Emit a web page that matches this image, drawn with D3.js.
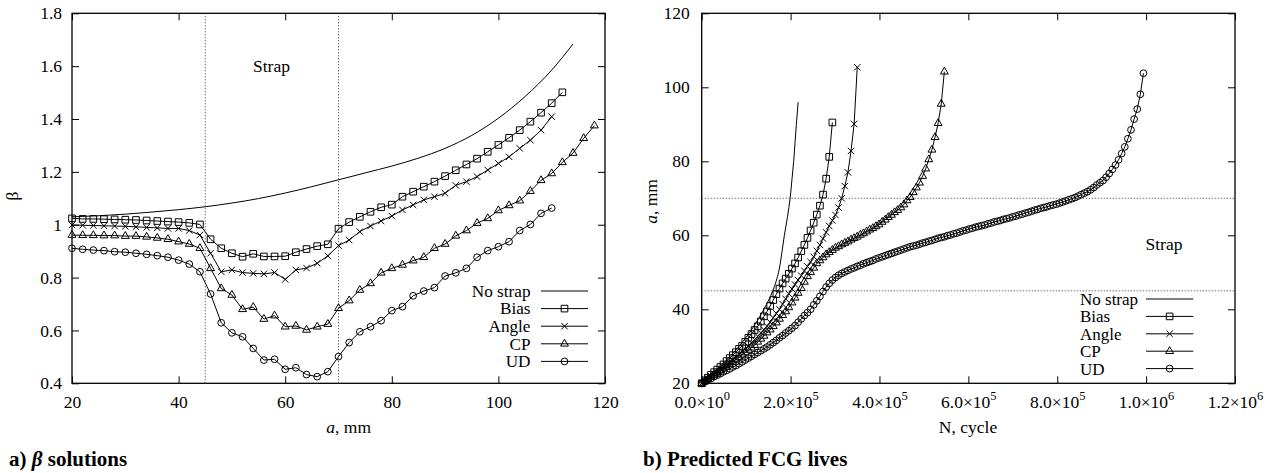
<!DOCTYPE html>
<html>
<head>
<meta charset="utf-8">
<script src="https://cdn.jsdelivr.net/npm/d3@7"></script>
<style>
  body { margin: 0; background: #fff; }
  svg { display: block; }
</style>
</head>
<body>
<script>
// ---- panel a) beta vs crack length a (mm), one value every 2 mm ----
const aGrid = [20,22,24,26,28,30,32,34,36,38,40,42,44,46,48,50,52,54,56,58,
  60,62,64,66,68,70,72,74,76,78,80,82,84,86,88,90,92,94,96,98,
  100,102,104,106,108,110,112,114,116,118];

const betaBias = [1.024,1.022,1.022,1.021,1.020,1.019,1.018,1.016,1.014,1.012,
  1.010,1.007,1.001,0.945,0.911,0.892,0.879,0.890,0.880,0.880,
  0.881,0.896,0.908,0.919,0.926,0.985,1.010,1.030,1.049,1.066,
  1.076,1.106,1.125,1.144,1.163,1.184,1.206,1.228,1.250,1.276,
  1.302,1.329,1.358,1.390,1.424,1.460,1.501];
const betaAngle = [0.999,0.998,0.997,0.996,0.995,0.994,0.992,0.990,0.988,0.986,
  0.986,0.978,0.961,0.892,0.822,0.829,0.819,0.816,0.814,0.819,
  0.793,0.829,0.836,0.854,0.882,0.921,0.942,0.974,0.995,1.014,
  1.033,1.056,1.075,1.094,1.106,1.119,1.149,1.163,1.182,1.207,
  1.232,1.257,1.289,1.320,1.358,1.409];
const betaCP = [0.961,0.960,0.960,0.959,0.959,0.957,0.957,0.954,0.950,0.945,
  0.936,0.927,0.911,0.835,0.759,0.734,0.680,0.688,0.643,0.656,
  0.614,0.617,0.602,0.614,0.624,0.684,0.713,0.753,0.778,0.818,
  0.835,0.848,0.864,0.877,0.911,0.927,0.958,0.978,1.006,1.024,
  1.054,1.073,1.091,1.127,1.168,1.194,1.236,1.271,1.327,1.375];
const betaUD = [0.911,0.907,0.904,0.902,0.898,0.896,0.892,0.888,0.883,0.877,
  0.866,0.851,0.822,0.738,0.629,0.591,0.576,0.532,0.488,0.491,
  0.453,0.459,0.433,0.425,0.444,0.501,0.554,0.595,0.614,0.637,
  0.675,0.690,0.731,0.749,0.762,0.806,0.818,0.835,0.877,0.902,
  0.917,0.936,0.978,1.001,1.043,1.063];

// no strap curve (line only)
const noStrapA = [20,25,30,35,40,45,50,55,60,65,70,75,80,85,90,95,100,105,110,114];
const noStrapBeta = [1.030,1.034,1.040,1.048,1.057,1.068,1.082,1.099,1.120,1.144,
  1.170,1.196,1.222,1.252,1.289,1.338,1.403,1.485,1.585,1.684];

const xTicksL = [20,40,60,80,100,120];
const yTicksL = [0.4,0.6,0.8,1,1.2,1.4,1.6,1.8];
const yTickLabelsL = ['0.4','0.6','0.8','1','1.2','1.4','1.6','1.8'];

// ---- panel b) crack length a (mm) vs cycles, output every 7000 cycles ----
const nGridK = [0,7,14,21,28,35,42,49,56,63,70,77,84,91,98,105,112,119,126,133,
  140,147,154,161,168,175,182,189,196,203,210,217,224,231,238,245,252,259,266,273,
  280,287,294,301,308,315,322,329,336,343,350,357,364,371,378,385,392,399,406,413,
  420,427,434,441,448,455,462,469,476,483,490,497,504,511,518,525,532,539,546,553,
  560,567,574,581,588,595,602,609,616,623,630,637,644,651,658,665,672,679,686,693,
  700,707,714,721,728,735,742,749,756,763,770,777,784,791,798,805,812,819,826,833,
  840,847,854,861,868,875,882,889,896,903,910,917,924,931,938,945,952,959,966,973,
  980,987,994];

const crackBias = [20.0,20.8,21.5,22.3,23.0,23.7,24.4,25.1,26.0,26.8,
  27.6,28.4,29.3,30.1,31.2,32.3,33.3,34.4,35.4,36.7,
  38.1,39.4,40.9,42.5,44.1,45.6,47.0,48.3,49.6,51.0,
  52.4,54.0,55.7,57.4,59.3,61.3,63.4,65.6,68.0,71.0,
  75.3,81.2,90.5];
const crackAngle = [20.0,20.6,21.3,21.9,22.5,23.1,23.8,24.4,25.0,25.7,
  26.4,27.1,27.8,28.6,29.3,30.0,30.9,31.8,32.7,33.6,
  34.5,35.4,36.5,37.7,38.9,40.0,41.4,42.8,44.2,45.5,
  46.7,47.9,49.1,50.4,51.6,52.8,54.2,55.8,57.4,59.1,
  60.8,62.5,64.0,65.5,67.5,70.0,73.3,77.0,82.8,90.1,
  105.4];
const crackCP = [20.0,20.6,21.1,21.7,22.3,22.8,23.4,24.0,24.5,25.1,
  25.7,26.4,27.0,27.7,28.3,29.0,29.6,30.3,31.2,32.0,
  32.8,33.7,34.5,35.4,36.4,37.4,38.4,39.4,40.5,41.8,
  43.1,44.4,45.7,47.4,48.9,50.0,51.2,52.4,53.2,54.0,
  54.8,55.4,56.0,56.6,57.0,57.5,57.9,58.3,58.8,59.2,
  59.6,60.1,60.5,61.0,61.5,61.9,62.4,62.9,63.6,64.2,
  64.9,65.5,66.2,66.8,67.5,68.3,69.4,70.3,71.6,72.9,
  74.2,76.0,78.0,80.5,83.1,86.5,90.3,95.5,104.2];
const crackUD = [20.0,20.4,20.9,21.3,21.8,22.2,22.6,23.1,23.5,23.9,
  24.4,24.8,25.3,25.8,26.3,26.8,27.3,27.8,28.3,28.8,
  29.3,29.8,30.4,31.0,31.6,32.3,32.9,33.6,34.2,34.9,
  35.6,36.5,37.4,38.3,39.1,40.0,41.2,42.3,43.5,44.8,
  46.0,47.0,47.9,48.6,49.2,49.7,50.1,50.5,50.9,51.2,
  51.6,51.9,52.3,52.6,52.9,53.2,53.6,53.9,54.2,54.5,
  54.8,55.1,55.4,55.7,56.0,56.3,56.6,56.9,57.1,57.3,
  57.6,57.9,58.1,58.4,58.6,58.9,59.2,59.4,59.6,59.9,
  60.1,60.4,60.6,60.9,61.2,61.4,61.7,61.9,62.2,62.4,
  62.6,62.8,63.1,63.3,63.6,63.8,64.0,64.3,64.5,64.7,
  65.0,65.2,65.5,65.7,66.0,66.2,66.5,66.8,67.0,67.3,
  67.5,67.7,68.0,68.2,68.4,68.7,69.0,69.3,69.6,69.9,
  70.2,70.6,71.0,71.4,71.8,72.3,72.9,73.6,74.2,74.8,
  75.7,76.7,77.8,79.0,80.4,82.1,83.9,86.1,88.5,91.4,
  94.1,98.1,103.8];

// no strap life curve (line only), cycles in thousands
const noStrapNK = [0,45,84,115,140,160,173,180,186,193,199,203,207,210,213,217];
const noStrapCrack = [20,25,30,35,40,45,50,55,60,65,70,75,80,85,90,96];

const xTicksR = [0,200000,400000,600000,800000,1000000,1200000];
const xTickMantR = ['0.0','2.0','4.0','6.0','8.0','1.0','1.2'];
const xTickExpR = ['0','5','5','5','5','6','6'];
const yTicksR = [20,40,60,80,100,120];

const strapBounds = [45, 70];
const legendNames = ['No strap','Bias','Angle','CP','UD'];
const legendMarks = [null,'square','cross','triangle','circle'];

// ---- drawing ----
const FONT = '"Liberation Serif","Times New Roman",Times,serif';
const FS = 17.5;
const width = 1275, height = 473;

const svg = d3.select('body').append('svg')
  .attr('width', width)
  .attr('height', height)
  .attr('font-family', FONT);

const markPath = {
  square: d3.symbol(d3.symbolSquare, 44)(),
  triangle: d3.symbol(d3.symbolTriangle, 27)(),
  circle: d3.symbol(d3.symbolCircle, 36)(),
  cross: 'M-3.2,-3.2L3.2,3.2M-3.2,3.2L3.2,-3.2'
};

function addMarks(g, pts, type) {
  g.append('g')
    .selectAll('path')
    .data(pts)
    .enter().append('path')
    .attr('d', markPath[type])
    .attr('transform', d => `translate(${d[0]},${d[1]})`)
    .attr('fill', 'none')
    .attr('stroke', '#000')
    .attr('stroke-width', 1);
}

function addLine(g, pts, curve) {
  g.append('path')
    .datum(pts)
    .attr('d', d3.line().curve(curve || d3.curveLinear))
    .attr('fill', 'none')
    .attr('stroke', '#000')
    .attr('stroke-width', 1);
}

function drawFrame(g, x, y, xTicks, yTicks, xPad, yPad) {
  const [x0, x1] = x.range();
  const [y0, y1] = y.range();
  const gx = g.append('g')
    .attr('transform', `translate(0,${y0})`)
    .call(d3.axisBottom(x).tickValues(xTicks).tickSize(-7).tickSizeOuter(0).tickPadding(xPad));
  g.append('g')
    .attr('transform', `translate(0,${y1})`)
    .call(d3.axisTop(x).tickValues(xTicks).tickSize(-7).tickSizeOuter(0).tickFormat(''));
  const gy = g.append('g')
    .attr('transform', `translate(${x0},0)`)
    .call(d3.axisLeft(y).tickValues(yTicks).tickSize(-7).tickSizeOuter(0).tickPadding(yPad));
  g.append('g')
    .attr('transform', `translate(${x1},0)`)
    .call(d3.axisRight(y).tickValues(yTicks).tickSize(-7).tickSizeOuter(0).tickFormat(''));
  g.selectAll('.domain').remove();
  g.selectAll('.tick line').attr('stroke', '#000');
  g.selectAll('g').attr('font-family', FONT).attr('font-size', FS);
  g.selectAll('.tick text').attr('fill', '#000');
  g.append('rect')
    .attr('x', x0).attr('y', y1)
    .attr('width', x1 - x0).attr('height', y0 - y1)
    .attr('fill', 'none').attr('stroke', '#000').attr('stroke-width', 1.3);
  return { gx, gy };
}

// ===== panel a =====
const xL = d3.scaleLinear().domain([20, 120]).range([72, 605]);
const yL = d3.scaleLinear().domain([0.4, 1.8]).range([383.3, 13.3]);
const gL = svg.append('g');

const axL = drawFrame(gL, xL, yL, xTicksL, yTicksL, 12, 10);
axL.gy.selectAll('.tick text').text((d, i) => yTickLabelsL[i]);

strapBounds.forEach(v => {
  gL.append('line')
    .attr('x1', xL(v)).attr('x2', xL(v))
    .attr('y1', yL(0.4)).attr('y2', yL(1.8))
    .attr('stroke', '#333').attr('stroke-dasharray', '1,2');
});

gL.append('text')
  .attr('x', 271.5).attr('y', 72)
  .attr('text-anchor', 'middle').attr('font-size', FS)
  .text('Strap');

addLine(gL, noStrapA.map((a, i) => [xL(a), yL(noStrapBeta[i])]), d3.curveMonotoneX);

[[betaBias, 'square'], [betaAngle, 'cross'], [betaCP, 'triangle'], [betaUD, 'circle']]
  .forEach(([vals, mark]) => {
    const pts = vals.map((b, i) => [xL(aGrid[i]), yL(b)]);
    addLine(gL, pts);
    addMarks(gL, pts, mark);
  });

// legend a
legendNames.forEach((name, i) => {
  const ly = 291 + i * 17.6;
  gL.append('text')
    .attr('x', 530.5).attr('y', ly + 5.8)
    .attr('text-anchor', 'end').attr('font-size', 17.2)
    .text(name);
  addLine(gL, [[541, ly], [588, ly]]);
  if (legendMarks[i]) addMarks(gL, [[564.5, ly]], legendMarks[i]);
});

// axis titles a
const txL = gL.append('text')
  .attr('x', 348.7).attr('y', 433)
  .attr('text-anchor', 'middle').attr('font-size', FS);
txL.append('tspan').attr('font-style', 'italic').text('a');
txL.append('tspan').text(', mm');

gL.append('text')
  .attr('transform', 'translate(18,196) rotate(-90)')
  .attr('text-anchor', 'middle').attr('font-size', FS)
  .text('β');

const tA = svg.append('text')
  .attr('x', 9).attr('y', 466)
  .attr('font-size', 21).attr('font-weight', 'bold');
tA.append('tspan').text('a) ');
tA.append('tspan').attr('font-style', 'italic').text('β');
tA.append('tspan').text(' solutions');

// ===== panel b =====
const xR = d3.scaleLinear().domain([0, 1200000]).range([701.7, 1235]);
const yR = d3.scaleLinear().domain([20, 120]).range([383.3, 13.3]);
const gR = svg.append('g');

const axR = drawFrame(gR, xR, yR, xTicksR, yTicksR, 12, 12);
axR.gx.selectAll('.tick text').each(function (d, i) {
  const t = d3.select(this).text(null);
  t.append('tspan').text(xTickMantR[i] + '×10');
  t.append('tspan').attr('dy', -7.5).attr('font-size', 12.5).text(xTickExpR[i]);
});

strapBounds.forEach(v => {
  gR.append('line')
    .attr('x1', xR(0)).attr('x2', xR(1200000))
    .attr('y1', yR(v)).attr('y2', yR(v))
    .attr('stroke', '#333').attr('stroke-dasharray', '1,2');
});

gR.append('text')
  .attr('x', 1164).attr('y', 250)
  .attr('text-anchor', 'middle').attr('font-size', FS)
  .text('Strap');

addLine(gR, noStrapNK.map((n, i) => [xR(n * 1000), yR(noStrapCrack[i])]), d3.curveMonotoneY);

[[crackBias, 'square'], [crackAngle, 'cross'], [crackCP, 'triangle'], [crackUD, 'circle']]
  .forEach(([vals, mark]) => {
    const pts = vals.map((a, i) => [xR(nGridK[i] * 1000), yR(a)]);
    addLine(gR, pts);
    addMarks(gR, pts, mark);
  });

// legend b
legendNames.forEach((name, i) => {
  const ly = 299 + i * 17.4;
  gR.append('text')
    .attr('x', 1080).attr('y', ly + 6)
    .attr('font-size', 17)
    .text(name);
  addLine(gR, [[1146, ly], [1193.3, ly]]);
  if (legendMarks[i]) addMarks(gR, [[1169.6, ly]], legendMarks[i]);
});

gR.append('text')
  .attr('x', 968).attr('y', 433)
  .attr('text-anchor', 'middle').attr('font-size', FS)
  .text('N, cycle');

const tyR = gR.append('text')
  .attr('transform', 'translate(657,201.5) rotate(-90)')
  .attr('text-anchor', 'middle').attr('font-size', FS);
tyR.append('tspan').attr('font-style', 'italic').text('a');
tyR.append('tspan').text(', mm');

svg.append('text')
  .attr('x', 643).attr('y', 466)
  .attr('font-size', 21).attr('font-weight', 'bold')
  .text('b) Predicted FCG lives');
</script>
</body>
</html>
